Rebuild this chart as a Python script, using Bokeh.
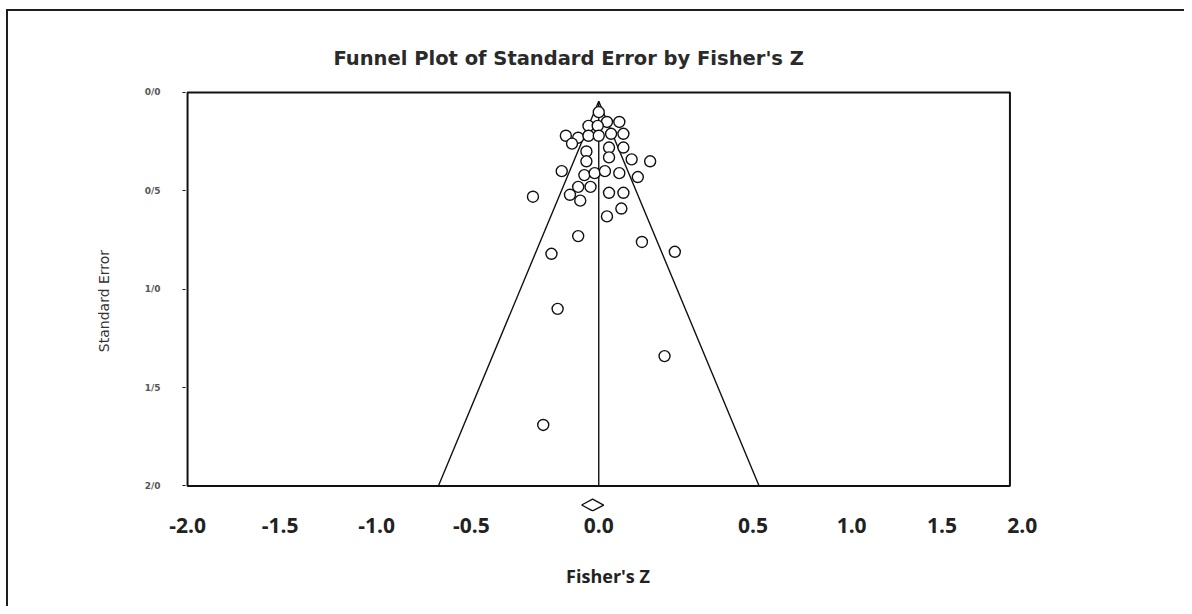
from bokeh.plotting import figure
from bokeh.models import Range1d, FixedTicker
from bokeh.embed import file_html
from bokeh.resources import INLINE

# ---- data ----
fisher_z = [0.00, 0.04, 0.10, -0.05, -0.005, -0.16, -0.10, -0.05, 0.00, 0.06,
            0.12, -0.13, -0.06, 0.05, 0.12, -0.06, 0.05, 0.16, 0.25, -0.18,
            -0.07, -0.02, 0.03, 0.10, 0.19, -0.10, -0.04, -0.14, -0.09, 0.05,
            0.12, -0.32, 0.11, 0.04, -0.10, 0.21, -0.23, 0.37, -0.20, 0.32,
            -0.27]
std_err = [0.10, 0.15, 0.15, 0.17, 0.17, 0.22, 0.23, 0.22, 0.22, 0.21,
           0.21, 0.26, 0.30, 0.28, 0.28, 0.35, 0.33, 0.34, 0.35, 0.40,
           0.42, 0.41, 0.40, 0.41, 0.43, 0.48, 0.48, 0.52, 0.55, 0.51,
           0.51, 0.53, 0.59, 0.63, 0.73, 0.76, 0.82, 0.81, 1.10, 1.34,
           1.69]

summary_z = -0.03
summary_lo = -0.083
summary_hi = 0.024
funnel_apex_se = 0.045
funnel_half_width_at_max = 0.78
se_max = 2.0
z_min, z_max = -2.0, 2.0

x_tick_labels = ["-2.0", "-1.5", "-1.0", "-0.5", "0.0", "0.5", "1.0", "1.5", "2.0"]
y_ticks = [0.0, 0.5, 1.0, 1.5, 2.0]
y_tick_labels = ["0/0", "0/5", "1/0", "1/5", "2/0"]

# layout: where the x labels sit in the picture
x_label_pos = [-2.00, -1.55, -1.08, -0.62, 0.0, 0.75, 1.23, 1.67, 2.06]

p = figure(
    frame_width=845, frame_height=421,
    min_border_left=177, min_border_right=154,
    min_border_top=79, min_border_bottom=95,
    x_range=Range1d(-2.01, 2.1), y_range=Range1d(2.13, -0.01),
    output_backend="svg", toolbar_location=None,
    background_fill_color="white", border_fill_color="white",
)
p.outline_line_color = None
p.grid.visible = False
p.styles = {"border-top": "2px solid #1e1e1e", "border-left": "2px solid #1e1e1e",
            "margin-top": "9px", "margin-left": "6px"}

# title
p.title.text = "Funnel Plot of Standard Error by Fisher's Z"
p.title.align = "left"
p.title.offset = 148
p.title.text_font = "DejaVu Sans"
p.title.text_font_size = "19.5px"
p.title.text_font_style = "bold"
p.title.text_color = "#2a2a2a"
p.title.standoff = 42

# plot box
p.quad(left=[z_min], right=[z_max], bottom=[se_max], top=[0.0],
       fill_color=None, line_color="#111111", line_width=2)

# funnel lines and centre line
p.line([-funnel_half_width_at_max, 0.0, funnel_half_width_at_max],
       [se_max, funnel_apex_se, se_max], line_color="#111111", line_width=1.4)
p.line([0.0, 0.0], [funnel_apex_se, se_max], line_color="#111111", line_width=1.4)

# studies
p.scatter(fisher_z, std_err, marker="circle", size=11, fill_color="white",
          line_color="#111111", line_width=1.4)

# summary diamond
dy = 0.03
p.patch([summary_lo, summary_z, summary_hi, summary_z, summary_lo],
        [2.097, 2.097 - dy, 2.097, 2.097 + dy, 2.097],
        fill_color="white", line_color="#111111", line_width=1.4)

# x axis
xa = p.xaxis[0]
xa.ticker = FixedTicker(ticks=x_label_pos)
xa.major_label_overrides = {pos: lab for pos, lab in zip(x_label_pos, x_tick_labels)}
xa.axis_line_color = None
xa.major_tick_line_color = None
xa.minor_tick_line_color = None
xa.major_label_standoff = 0
xa.major_label_text_font = "Open Sans"
xa.major_label_text_font_style = "bold"
xa.major_label_text_font_size = "21px"
xa.major_label_text_color = "#222222"
xa.axis_label = "Fisher's Z"
xa.axis_label_text_font = "Open Sans"
xa.axis_label_text_font_style = "bold"
xa.axis_label_text_font_size = "18px"
xa.axis_label_text_color = "#222222"
xa.axis_label_standoff = 28

# y axis
ya = p.yaxis[0]
ya.ticker = FixedTicker(ticks=y_ticks)
ya.major_label_overrides = {t: lab for t, lab in zip(y_ticks, y_tick_labels)}
ya.axis_line_color = None
ya.major_tick_line_color = "#111111"
ya.major_tick_out = 3
ya.major_tick_in = 0
ya.minor_tick_line_color = None
ya.major_label_standoff = 22
ya.major_label_text_font = "DejaVu Sans"
ya.major_label_text_font_style = "bold"
ya.major_label_text_font_size = "9px"
ya.major_label_text_color = "#555555"
ya.axis_label = "Standard Error"
ya.axis_label_text_font = "DejaVu Sans"
ya.axis_label_text_font_style = "normal"
ya.axis_label_text_font_size = "14px"
ya.axis_label_text_color = "#333333"
ya.axis_label_standoff = 30

open("out.html", "w").write(file_html(p, INLINE))
